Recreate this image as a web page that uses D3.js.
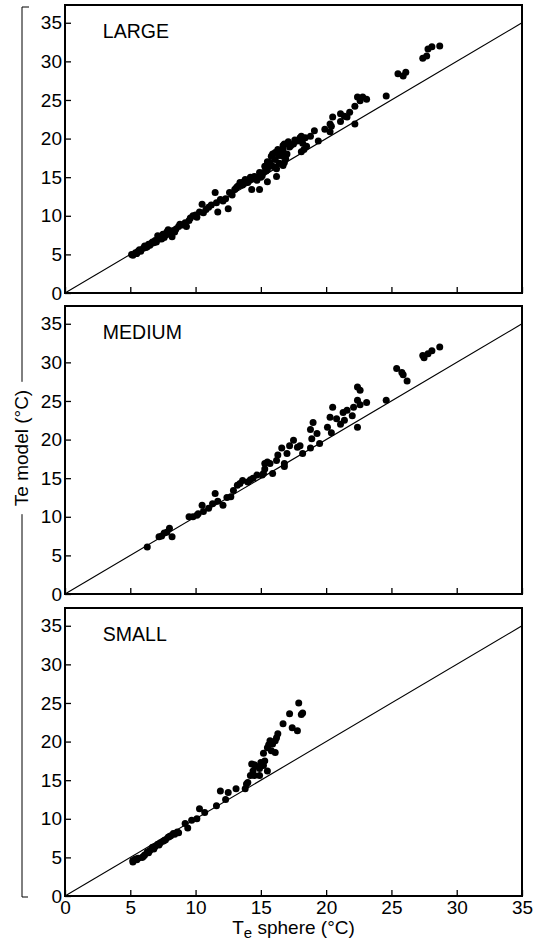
<!DOCTYPE html>
<html lang="en">
<head>
<meta charset="UTF-8">
<title>Te model vs Te sphere</title>
<style>
  body { margin: 0; background: #fff; }
  svg { display: block; font-family: 'Liberation Sans', Arial, Helvetica, sans-serif; }
  .axis path { display: none; }
  .axis line { stroke: #000; stroke-width: 1.3; }
  .axis text { font-size: 19px; fill: #000; }
</style>
</head>
<body>
<div id="chart"></div>
<script src="https://cdn.jsdelivr.net/npm/d3@7/dist/d3.min.js"></script>
<script>
// --- data: [Te sphere, Te model] in degC ---
const panelNames = ["LARGE", "MEDIUM", "SMALL"];
const xTicks = [0, 5, 10, 15, 20, 25, 30, 35];
const yTicks = [0, 5, 10, 15, 20, 25, 30, 35];

const large = [
  [5.1,5.0],[5.2,4.9],[5.4,5.2],[5.5,5.1],[5.6,5.4],[5.7,5.6],[5.8,5.4],[6.0,5.8],[6.1,6.1],[6.2,5.9],
  [6.3,6.0],[6.4,6.3],[6.5,6.2],[6.6,6.4],[6.7,6.6],[6.8,6.5],[6.9,6.8],[7.0,6.6],[7.1,7.4],[7.2,7.0],
  [7.3,7.3],[7.4,7.0],[7.5,7.6],[7.6,7.2],[7.7,7.5],[7.8,7.9],[7.9,8.2],[8.0,7.6],[8.1,8.0],[8.2,7.3],
  [8.3,8.1],[8.4,7.9],[8.5,8.3],[8.7,8.6],[8.8,8.9],[9.0,8.8],[9.2,9.1],[9.3,8.6],[9.5,9.4],[9.6,9.7],
  [9.8,10.0],[10.0,10.1],[10.1,9.8],[10.3,10.5],[10.5,11.5],[10.6,10.4],[10.8,10.8],[11.0,11.1],[11.2,11.4],[11.5,13.0],
  [11.6,11.7],[11.7,10.5],[11.9,12.1],[12.1,11.9],[12.3,12.2],[12.5,10.9],[12.6,13.0],[12.8,12.7],[13.0,13.4],[13.1,13.6],
  [13.2,13.8],[13.3,13.9],[13.4,14.3],[13.6,14.0],[13.7,14.4],[13.8,14.7],[14.0,14.3],[14.1,14.6],[14.2,15.0],[14.3,13.4],
  [14.4,14.8],[14.5,15.1],[14.6,15.0],[14.7,14.6],[14.9,15.6],[14.9,13.4],[15.0,15.0],[15.1,15.2],[15.2,15.6],[15.3,16.4],
  [15.4,15.8],[15.5,14.4],[15.5,16.0],[15.5,17.0],[15.6,16.6],[15.7,16.9],[15.8,17.7],[15.9,18.0],[15.9,16.4],[16.1,17.3],
  [16.1,18.2],[16.1,16.3],[16.2,15.1],[16.2,16.1],[16.3,18.6],[16.4,17.8],[16.4,16.8],[16.5,18.2],[16.7,18.6],[16.7,17.7],
  [16.7,19.1],[16.8,16.9],[16.8,19.3],[16.7,16.5],[16.9,17.4],[17.0,18.0],[17.1,19.6],[17.2,18.9],[17.3,19.1],[17.5,19.3],
  [17.6,19.8],[17.8,19.7],[18.0,20.1],[18.1,20.3],[18.1,18.3],[18.2,19.4],[18.3,18.6],[18.4,20.1],[18.5,19.0],[18.8,20.3],
  [19.1,21.0],[19.4,19.7],[19.9,21.2],[20.3,20.9],[20.3,21.9],[20.4,21.6],[20.5,22.8],[21.1,22.2],[21.1,23.2],[21.4,22.9],
  [21.6,22.8],[21.8,23.4],[22.2,24.2],[22.2,21.9],[22.4,25.4],[22.6,24.9],[22.8,25.4],[23.1,25.1],[24.6,25.5],[25.5,28.4],
  [25.9,28.1],[26.1,28.6],[27.4,30.4],[27.7,30.7],[27.8,31.6],[28.1,31.9],[28.7,32.0]
];

const medium = [
  [6.3,6.1],[7.2,7.4],[7.4,7.5],[7.6,7.9],[7.8,8.0],[8.0,8.5],[8.2,7.4],[9.5,10.0],[9.8,10.0],[10.1,10.2],
  [10.2,10.4],[10.5,11.5],[10.6,10.7],[11.0,11.1],[11.3,11.7],[11.5,13.0],[11.7,12.0],[12.1,11.5],[12.4,12.5],[12.7,12.6],
  [12.9,13.4],[13.2,14.1],[13.4,14.3],[13.6,14.7],[14.0,14.5],[14.2,14.8],[14.4,15.0],[14.7,15.4],[15.1,15.4],[15.2,15.6],
  [15.3,16.2],[15.3,16.9],[15.5,17.1],[15.7,16.9],[15.9,15.6],[16.2,17.3],[16.3,18.0],[16.6,18.9],[16.8,16.9],[16.8,16.5],
  [17.0,18.2],[17.2,19.2],[17.5,19.9],[17.8,19.0],[18.0,19.2],[18.2,18.2],[18.8,18.9],[18.9,20.1],[18.8,21.3],[19.0,22.2],
  [19.3,20.8],[19.5,19.5],[20.1,21.6],[20.4,20.9],[20.3,22.9],[20.5,24.2],[20.8,22.7],[21.1,22.0],[21.3,23.5],[21.6,23.8],
  [21.4,22.5],[22.0,23.1],[22.1,24.2],[22.4,25.1],[22.6,24.5],[23.1,24.8],[22.4,26.8],[22.6,26.4],[22.4,21.6],[24.6,25.1],
  [25.4,29.2],[25.8,28.7],[25.9,28.4],[26.2,27.6],[27.4,30.9],[27.5,30.6],[27.8,31.1],[28.1,31.5],[28.7,32.0]
];

const small = [
  [5.2,4.4],[5.2,4.6],[5.4,4.8],[5.5,4.7],[5.6,4.9],[5.9,5.0],[6.0,5.1],[6.1,5.3],[6.3,5.7],[6.4,5.6],
  [6.5,5.9],[6.7,6.3],[6.8,6.1],[6.9,6.4],[7.1,6.7],[7.2,6.6],[7.3,6.9],[7.5,7.1],[7.6,7.2],[7.7,7.3],
  [7.9,7.6],[8.0,7.7],[8.1,7.8],[8.3,8.1],[8.4,8.0],[8.6,8.3],[8.7,8.2],[9.2,9.4],[9.4,8.8],[9.7,9.8],
  [10.1,10.0],[10.3,11.3],[10.7,10.8],[11.6,11.7],[11.9,13.6],[12.3,12.5],[12.5,13.4],[13.1,13.9],[13.8,13.9],[13.9,14.5],
  [14.0,14.7],[14.2,15.6],[14.3,17.1],[14.4,16.2],[14.5,17.0],[14.5,15.6],[14.6,16.8],[14.9,15.6],[14.9,16.5],[15.0,17.3],
  [15.2,16.9],[15.2,18.5],[15.3,17.5],[15.5,16.2],[15.5,19.2],[15.6,19.6],[15.7,20.1],[15.8,18.8],[15.9,19.7],[16.1,18.6],
  [16.1,20.1],[16.2,20.5],[16.3,21.0],[16.7,22.3],[17.2,23.6],[17.4,21.8],[17.8,21.4],[17.9,25.0],[18.2,23.7],[18.1,23.5]
];

const series = [large, medium, small];

// --- layout ---
const width = 538, height = 946;
const left = 65, pw = 457, ph = 288;
const bottoms = [293, 594, 896];
const yMax = 37.3;

const svg = d3.select("#chart").append("svg")
    .attr("width", width)
    .attr("height", height);

const x = d3.scaleLinear().domain([0, 35]).range([0, pw]);

series.forEach((pts, i) => {
    const top = bottoms[i] - ph;
    const g = svg.append("g").attr("transform", `translate(${left},${top})`);
    const y = d3.scaleLinear().domain([0, yMax]).range([ph, 0]);

    // 1:1 line
    g.append("line")
        .attr("x1", x(0)).attr("y1", y(0))
        .attr("x2", x(35)).attr("y2", y(35))
        .attr("stroke", "#000").attr("stroke-width", 1.1);

    g.selectAll("circle").data(pts).join("circle")
        .attr("cx", d => x(d[0]))
        .attr("cy", d => y(d[1]))
        .attr("r", 3.5)
        .attr("fill", "#000");

    g.append("g").attr("class", "axis")
        .call(d3.axisLeft(y).tickValues(yTicks).tickSize(-6).tickPadding(3));

    const xa = d3.axisBottom(x).tickValues(xTicks).tickSize(-6).tickPadding(5);
    if (i < 2) xa.tickFormat("");
    g.append("g").attr("class", "axis")
        .attr("transform", `translate(0,${ph})`)
        .call(xa);

    // frame
    g.append("rect")
        .attr("width", pw).attr("height", ph)
        .attr("fill", "none").attr("stroke", "#000").attr("stroke-width", 2);

    g.append("text")
        .attr("x", x(2.9)).attr("y", y(33))
        .attr("font-size", 19.5)
        .text(panelNames[i]);
});

// x axis title with subscript
const xt = svg.append("text")
    .attr("x", left + pw / 2).attr("y", 934)
    .attr("text-anchor", "middle")
    .attr("font-size", 19);
xt.append("tspan").text("T");
xt.append("tspan").attr("font-size", 15).attr("dy", 4).text("e");
xt.append("tspan").attr("dy", -4).text(" sphere (°C)");

// y axis title with bracket line
const yMid = 448, yx = 22;
const yt = svg.append("text")
    .attr("transform", `translate(${yx + 6},${yMid}) rotate(-90)`)
    .attr("text-anchor", "middle")
    .attr("font-size", 19)
    .text("Te model (°C)");
const half = yt.node().getComputedTextLength() / 2 + 8;

const bracket = d3.path();
bracket.moveTo(yx + 7, 7); bracket.lineTo(yx, 7); bracket.lineTo(yx, yMid - half);
bracket.moveTo(yx, yMid + half); bracket.lineTo(yx, 897); bracket.lineTo(yx + 6, 897);
svg.append("path")
    .attr("d", bracket.toString())
    .attr("fill", "none")
    .attr("stroke", "#000")
    .attr("stroke-width", 1);
</script>
</body>
</html>
